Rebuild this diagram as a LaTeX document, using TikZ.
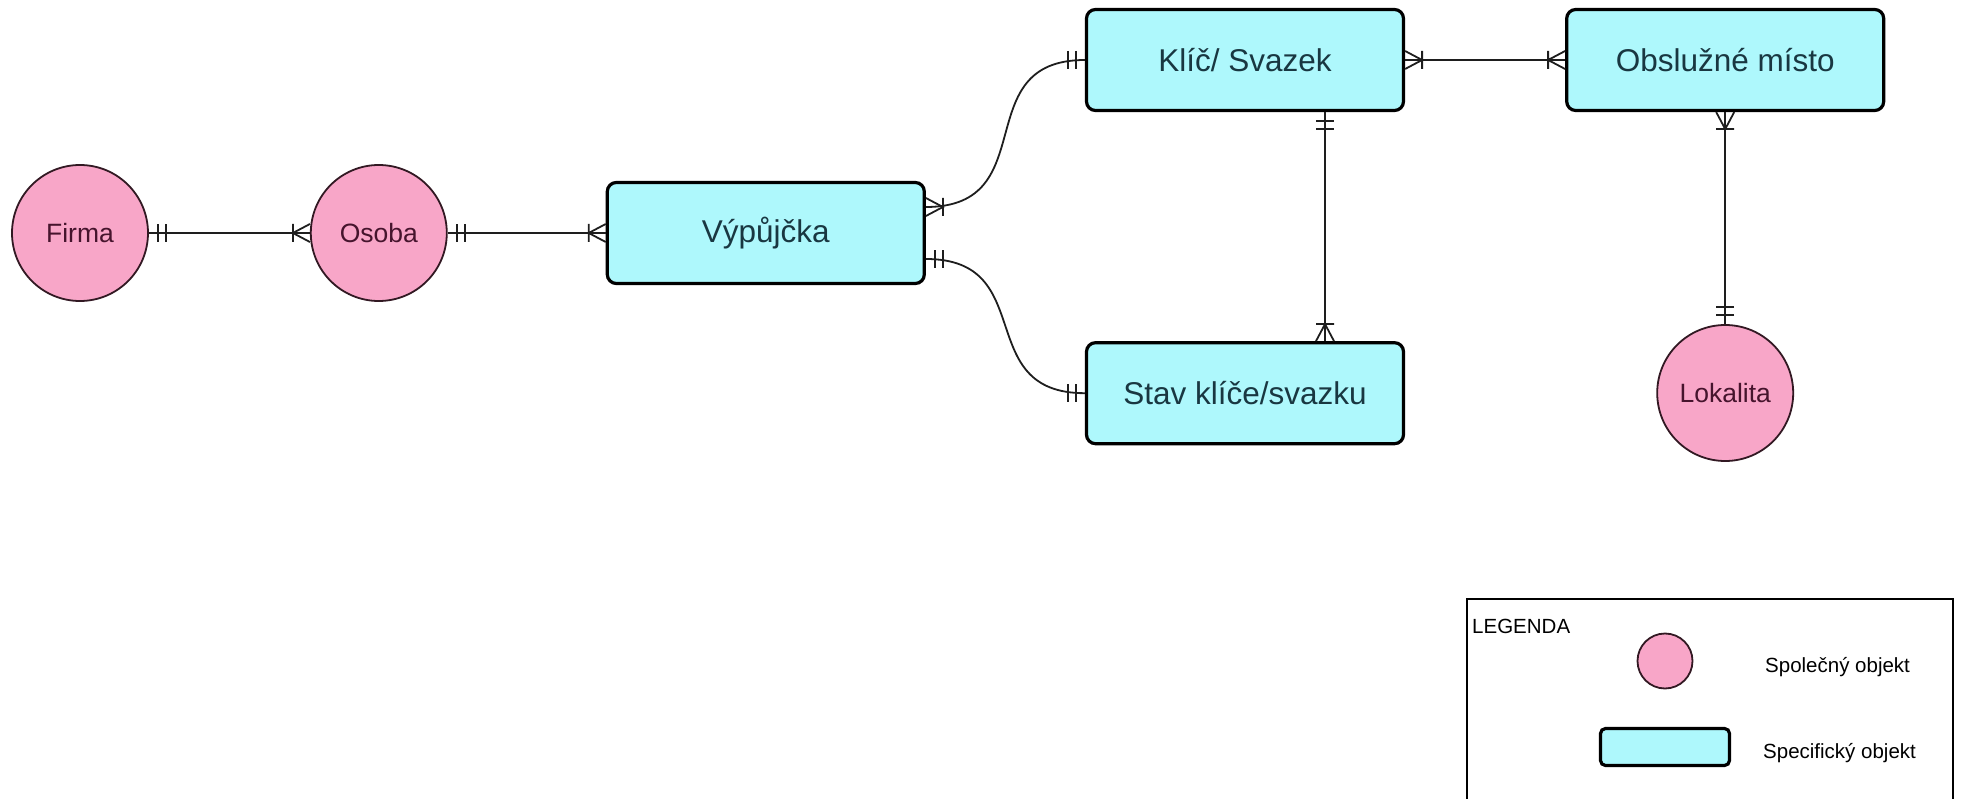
\documentclass[tikz,border=0pt]{standalone}
\usepackage{fontspec}
\setmainfont{Liberation Sans}
\usetikzlibrary{positioning,arrows.meta}
\definecolor{SpecCyan}{RGB}{174,248,252}
\definecolor{CommonPink}{RGB}{248,166,200}
\definecolor{BoxText}{RGB}{25,55,65}
\definecolor{CircleText}{RGB}{70,20,45}
\definecolor{CircleLine}{RGB}{50,25,35}
\definecolor{LineGray}{RGB}{30,30,30}

% konce vztahu: "prave jeden" a "jeden nebo vice"
\pgfdeclarearrow{
  name = ERone,
  parameters = {\the\pgfarrowlength,\the\pgfarrowwidth},
  setup code = {
    \pgfarrowssettipend{0pt}
    \pgfarrowssetlineend{0pt}
    \pgfarrowssetbackend{-\pgfarrowlength}
    \pgfarrowssetvisualbackend{-\pgfarrowlength}
    \pgfarrowssavethe\pgfarrowlength
    \pgfarrowssavethe\pgfarrowwidth
  },
  drawing code = {
    \pgfsetdash{}{0pt}
    \pgfpathmoveto{\pgfqpoint{-.53\pgfarrowlength}{.5\pgfarrowwidth}}
    \pgfpathlineto{\pgfqpoint{-.53\pgfarrowlength}{-.5\pgfarrowwidth}}
    \pgfpathmoveto{\pgfqpoint{-\pgfarrowlength}{.5\pgfarrowwidth}}
    \pgfpathlineto{\pgfqpoint{-\pgfarrowlength}{-.5\pgfarrowwidth}}
    \pgfusepathqstroke
  },
  defaults = {length = 17pt, width = 18pt}
}
\pgfdeclarearrow{
  name = ERmany,
  parameters = {\the\pgfarrowlength,\the\pgfarrowwidth},
  setup code = {
    \pgfarrowssettipend{0pt}
    \pgfarrowssetlineend{0pt}
    \pgfarrowssetbackend{-\pgfarrowlength}
    \pgfarrowssetvisualbackend{-\pgfarrowlength}
    \pgfarrowssavethe\pgfarrowlength
    \pgfarrowssavethe\pgfarrowwidth
  },
  drawing code = {
    \pgfsetdash{}{0pt}
    \pgfpathmoveto{\pgfqpoint{0pt}{.5\pgfarrowwidth}}
    \pgfpathlineto{\pgfqpoint{-\pgfarrowlength}{0pt}}
    \pgfpathlineto{\pgfqpoint{0pt}{-.5\pgfarrowwidth}}
    \pgfpathmoveto{\pgfqpoint{-\pgfarrowlength}{.5\pgfarrowwidth}}
    \pgfpathlineto{\pgfqpoint{-\pgfarrowlength}{-.5\pgfarrowwidth}}
    \pgfusepathqstroke
  },
  defaults = {length = 17pt, width = 18pt}
}

\begin{document}
\begin{tikzpicture}[x=1pt,y=-1pt,node distance=160pt,
  specific/.style={draw,line width=3.2pt,rounded corners=9pt,fill=SpecCyan,text=BoxText,minimum width=317pt,minimum height=101pt,font=\fontsize{31.5}{36}\selectfont},
  common/.style={draw=CircleLine,line width=1.8pt,circle,fill=CommonPink,text=CircleText,minimum size=136pt,inner sep=0pt,font=\fontsize{26.5}{30}\selectfont},
  rel/.style={draw=LineGray,line width=1.8pt},
  legendtext/.style={anchor=base west,inner sep=0pt,text=black,font=\fontsize{20.5}{24}\selectfont}]
\useasboundingbox (0,0) rectangle (1963,799);
\node[common] (firma) at (80,233) {Firma};
\node[common,right=161pt of firma] (osoba) {Osoba};
\node[specific,right=158pt of osoba] (vypujcka) {Výpůjčka};
\node[specific] (klic) at (1245,60) {Klíč/ Svazek};
\node[specific,below=229pt of klic] (stav) {Stav klíče/svazku};
\node[specific,right=160pt of klic] (misto) {Obslužné místo};
\node[common,below=212pt of misto] (lokalita) {Lokalita};
% vztahy
\draw[rel,ERone-ERmany] (firma) -- (osoba);
\draw[rel,ERone-ERmany] (osoba) -- (vypujcka);
\draw[rel,ERmany-ERone] ([yshift=26pt]vypujcka.east) to[out=0,in=180,looseness=1.4] (klic.west);
\draw[rel,ERone-ERone] ([yshift=-26pt]vypujcka.east) to[out=0,in=180,looseness=1.4] (stav.west);
\draw[rel,ERmany-ERmany] (klic) -- (misto);
\draw[rel,ERone-ERmany] ([xshift=80pt]klic.south) -- ([xshift=80pt]stav.north);
\draw[rel,ERmany-ERone] (misto) -- (lokalita);
% legenda
\draw[line width=2pt] (1467,599) rectangle (1953,815);
\node[legendtext] (legenda) at (1472,633) {LEGENDA};
\node[common,minimum size=55pt] (legcommon) at (1665,661) {};
\node[specific,minimum width=129pt,minimum height=37pt,rounded corners=5pt] (legspecific) at (1665,747) {};
\node[legendtext] (legcommontext) at (1765,672) {Společný objekt};
\node[legendtext] (legspecifictext) at (1763,758) {Specifický objekt};
\end{tikzpicture}
\end{document}
